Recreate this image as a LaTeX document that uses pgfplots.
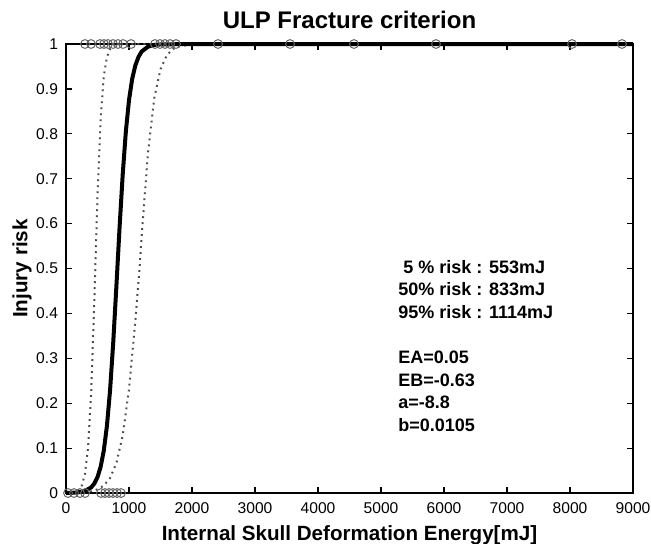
\documentclass[border=0pt]{standalone}
\usepackage{fontspec}
\setmainfont{Liberation Sans}
\usepackage{pgfplots}
\pgfplotsset{compat=1.18}
\begin{document}
\begin{tikzpicture}
\begin{axis}[
  scale only axis,
  width=283.5pt, height=224.5pt,
  xmin=0, xmax=9000, ymin=0, ymax=1,
  xtick={0,1000,...,9000},
  ytick={0,0.1,...,1},
  yticklabels={0,0.1,0.2,0.3,0.4,0.5,0.6,0.7,0.8,0.9,1},
  scaled x ticks=false,
  /pgf/number format/1000 sep={},
  /pgf/number format/assume math mode=true,
  tick align=inside,
  tick pos=both,
  major tick length=3pt,
  axis line style={line width=0.75pt},
  every tick/.style={line width=0.6pt, black},
  tick label style={font=\fontsize{7.8}{9}\selectfont},
  yticklabel style={xshift=-0.5pt},
  xticklabel style={yshift=-1.5pt},
  clip=false,
  title={ULP Fracture criterion},
  title style={at={(axis description cs:0.5,1)}, anchor=base, yshift=2pt,
               font=\bfseries\fontsize{12}{14}\selectfont},
  xlabel={Internal Skull Deformation Energy[mJ]},
  xlabel style={at={(axis description cs:0.5,0)}, anchor=base, yshift=-23.5pt,
                font=\bfseries\fontsize{10.3}{12}\selectfont},
  ylabel={Injury risk},
  ylabel style={at={(axis description cs:-0.0776,0.5)}, anchor=center,
                font=\bfseries\fontsize{10.3}{12}\selectfont},
]
% lower bound (dotted)
\addplot[black!70, line width=1pt, dash pattern=on 0.9pt off 2.1pt] coordinates {
(0,0.0001) (100,0.001) (150,0.0025) (200,0.0064) (250,0.0165) (300,0.0417)
(350,0.101) (400,0.225) (450,0.429) (500,0.660) (550,0.834) (600,0.929)
(650,0.971) (700,0.989) (750,0.996) (800,0.998) (900,1) (9000,1)};
% upper bound (dotted)
\addplot[black!70, line width=1pt, dash pattern=on 0.9pt off 2.1pt] coordinates {
(0,0.0002) (300,0.0019) (400,0.004) (500,0.0082) (600,0.0166) (700,0.0336)
(800,0.0665) (900,0.128) (1000,0.231) (1100,0.382) (1167,0.5) (1200,0.570)
(1300,0.756) (1400,0.879) (1500,0.944) (1600,0.975) (1700,0.989) (1800,0.995)
(2000,0.999) (9000,1)};
% risk curve (solid)
\addplot[black, line width=2pt] coordinates {
(0,0) (100,0.0006) (200,0.0016) (300,0.0045) (400,0.0126) (450,0.0212)
(500,0.0353) (550,0.0584) (600,0.0945) (650,0.150) (700,0.230) (750,0.336)
(800,0.461) (850,0.591) (900,0.709) (950,0.805) (1000,0.875) (1050,0.922)
(1100,0.952) (1150,0.971) (1200,0.983) (1300,0.994) (1400,0.998) (1500,0.999)
(2000,1) (9000,1)};
% fracture cases (y=1)
\addplot[only marks, mark=o, mark size=2.2pt, mark options={draw=black!60, line width=0.5pt}] coordinates {
(302,1) (397,1) (540,1) (603,1) (667,1) (746,1) (825,1) (905,1) (1032,1)
(1413,1) (1492,1) (1571,1) (1651,1) (1746,1) (2413,1) (3556,1) (4571,1)
(5873,1) (8032,1) (8825,1)};
% non-fracture cases (y=0)
\addplot[only marks, mark=o, mark size=2.2pt, mark options={draw=black!60, line width=0.5pt}] coordinates {
(32,0) (127,0) (222,0) (302,0) (556,0) (619,0) (683,0) (746,0) (810,0) (873,0)};
\coordinate (SW) at (rel axis cs:0,0);
\coordinate (NE) at (rel axis cs:1,1);
\begin{scope}[every node/.style={anchor=base west, inner sep=0pt, font=\bfseries\fontsize{9}{11}\selectfont}]
\node at (axis cs:5270,0.489) {\hspace{2.5pt}5 \% risk : 553mJ};
\node at (axis cs:5270,0.439) {50\% risk : 833mJ};
\node at (axis cs:5270,0.389) {95\% risk : 1114mJ};
\node at (axis cs:5270,0.289) {EA=0.05};
\node at (axis cs:5270,0.238) {EB=-0.63};
\node at (axis cs:5270,0.188) {a=-8.8};
\node at (axis cs:5270,0.138) {b=0.0105};
\end{scope}
\end{axis}
\pgfresetboundingbox
\path[use as bounding box] ([xshift=-33pt,yshift=-25pt]SW) rectangle ([xshift=9pt,yshift=22pt]NE);
\end{tikzpicture}
\end{document}
